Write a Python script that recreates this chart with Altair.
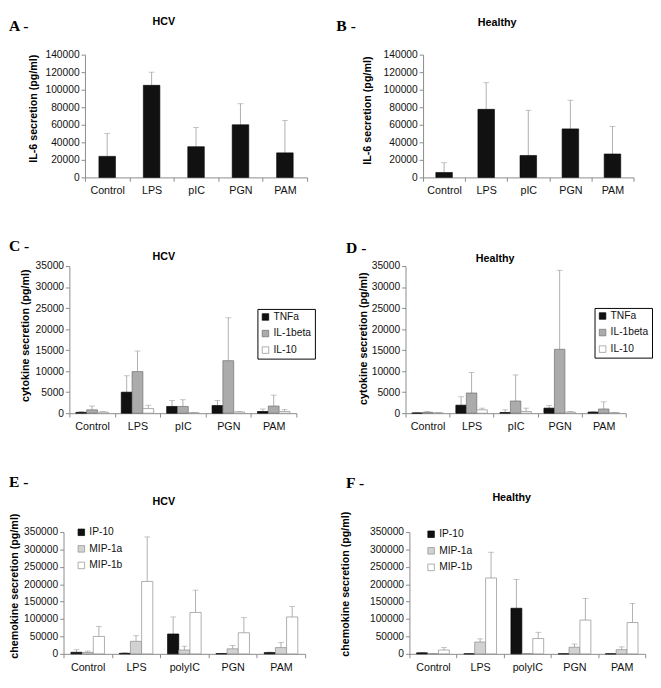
import altair as alt
import pandas as pd

# ---------------- data ----------------
cats_il6 = ["Control", "LPS", "pIC", "PGN", "PAM"]
cats_chemo = ["Control", "LPS", "polyIC", "PGN", "PAM"]

il6_hcv = [24000, 105000, 35000, 60000, 28000]
il6_hcv_err = [26000, 15000, 22000, 24000, 37000]
il6_healthy = [5600, 77600, 25000, 55300, 26700]
il6_healthy_err = [11100, 30400, 51500, 32700, 31300]

cyto_series = ["TNFa", "IL-1beta", "IL-10"]
cyto_hcv = {
    "TNFa": [200, 5000, 1600, 1800, 400],
    "IL-1beta": [800, 9900, 1600, 12500, 1700],
    "IL-10": [250, 1100, 100, 300, 400],
}
cyto_hcv_err = {
    "TNFa": [150, 3900, 1400, 1200, 600],
    "IL-1beta": [900, 4900, 1600, 10200, 2600],
    "IL-10": [100, 800, 50, 50, 500],
}
cyto_healthy = {
    "TNFa": [50, 1900, 150, 1200, 250],
    "IL-1beta": [200, 4800, 2900, 15200, 1000],
    "IL-10": [50, 800, 400, 250, 100],
}
cyto_healthy_err = {
    "TNFa": [100, 2000, 650, 600, 100],
    "IL-1beta": [200, 4900, 6200, 18800, 1700],
    "IL-10": [50, 400, 800, 150, 100],
}

chemo_series = ["IP-10", "MIP-1a", "MIP-1b"]
chemo_hcv = {
    "IP-10": [4500, 1500, 57000, 500, 3600],
    "MIP-1a": [4000, 36000, 11000, 14500, 18000],
    "MIP-1b": [50000, 208000, 119000, 60600, 106000],
}
chemo_hcv_err = {
    "IP-10": [7500, 1500, 49000, 0, 1500],
    "MIP-1a": [4000, 16000, 11000, 9500, 15000],
    "MIP-1b": [29000, 128000, 64000, 43400, 30000],
}
chemo_healthy = {
    "IP-10": [3000, 0, 131000, 0, 0],
    "MIP-1a": [500, 34000, 1000, 19000, 12000],
    "MIP-1b": [11000, 218000, 44000, 97000, 90000],
}
chemo_healthy_err = {
    "IP-10": [1000, 0, 83000, 0, 0],
    "MIP-1a": [0, 9000, 0, 9000, 8000],
    "MIP-1b": [7000, 74000, 18000, 62000, 55000],
}

FONT = "Liberation Sans"
AXIS_COLOR = "#8a8a8a"
ERR_COLOR = "#9a9a9a"


def simple_df(cats, mean, err):
    return pd.DataFrame({"cat": cats, "mean": mean,
                         "top": [m + e for m, e in zip(mean, err)]})


def group_df(cats, series, mean, err):
    rows = []
    for s in series:
        for c, m, e in zip(cats, mean[s], err[s]):
            rows.append({"cat": c, "series": s, "mean": m, "top": m + e})
    return pd.DataFrame(rows)


def x_enc(cats, rng, po=0.0):
    return alt.X("cat:N", sort=cats,
                 scale=alt.Scale(domain=cats, range=rng, paddingInner=0, paddingOuter=po),
                 axis=alt.Axis(title=None, labelAngle=0, tickBand="extent",
                               domainColor=AXIS_COLOR, tickColor=AXIS_COLOR, tickSize=4,
                               labelPadding=4, labelFontSize=11, labelFont=FONT,
                               labelColor="#111"))


def y_axis(title, values, d, tx, ty):
    return alt.Axis(title=title, values=values, format="d", offset=-d, grid=False,
                    domainColor=AXIS_COLOR, tickColor=AXIS_COLOR, tickSize=4,
                    labelPadding=2, labelFontSize=10.5, labelFont=FONT, labelColor="#111",
                    titleX=tx, titleY=ty, titleAngle=270, titleAlign="center",
                    titleBaseline="middle", titleFont=FONT, titleFontSize=11,
                    titleFontWeight="bold", titleColor="#000")


def text_layer(label, x, y, serif=False):
    if serif:
        mk = alt.Chart(pd.DataFrame({"t": [label]})).mark_text(
            font="Liberation Serif", fontWeight="bold", fontSize=16,
            align="left", baseline="top", color="#000")
    else:
        mk = alt.Chart(pd.DataFrame({"t": [label]})).mark_text(
            font=FONT, fontWeight="bold", fontSize=11,
            align="center", baseline="middle", color="#000")
    return mk.encode(x=alt.value(x), y=alt.value(y), text="t:N")


def simple_panel(cats, mean, err, d, w, h, ytitle, tx, ty, letter, lx, ly, ttl, ttx, tty):
    df = simple_df(cats, mean, err)
    vals = list(range(0, 140001, 20000))
    ysc = alt.Scale(domain=[0, 140000], nice=False)
    ax = y_axis(ytitle, vals, d, tx, ty)
    X = x_enc(cats, [d, w])
    base = alt.Chart(df)
    bars = base.mark_bar(color="#111111", stroke="#000", strokeWidth=0.6, width=17).encode(
        x=X, y=alt.Y("mean:Q", scale=ysc, axis=ax))
    rule = base.mark_rule(color=ERR_COLOR, strokeWidth=0.8).encode(
        x=X, y=alt.Y("mean:Q", scale=ysc, axis=ax), y2="top:Q")
    cap = base.mark_tick(color=ERR_COLOR, thickness=0.8, size=6).encode(
        x=X, y=alt.Y("top:Q", scale=ysc, axis=ax))
    return alt.layer(rule, cap, bars, text_layer(letter, lx, ly, True),
                     text_layer(ttl, ttx, tty)).properties(width=w, height=h)


def group_panel(cats, series, mean, err, fills, strokes, ymax, ystep, d, w, h, po_off,
                ytitle, tx, ty, letter, lx, ly, ttl, ttx, tty, leg):
    df = group_df(cats, series, mean, err)
    vals = list(range(0, ymax + 1, ystep))
    ysc = alt.Scale(domain=[0, ymax], nice=False)
    ax = y_axis(ytitle, vals, d, tx, ty)
    X = x_enc(cats, [d, w])
    XO = alt.XOffset("series:N", sort=series,
                     scale=alt.Scale(domain=series, paddingInner=0, paddingOuter=po_off))
    base = alt.Chart(df)
    bars = base.mark_bar(strokeWidth=0.7).encode(
        x=X, xOffset=XO, y=alt.Y("mean:Q", scale=ysc, axis=ax),
        fill=alt.Fill("series:N", sort=series,
                      scale=alt.Scale(domain=series, range=fills), legend=leg),
        stroke=alt.Stroke("series:N", sort=series,
                          scale=alt.Scale(domain=series, range=strokes), legend=None))
    rule = base.mark_rule(color=ERR_COLOR, strokeWidth=0.8).encode(
        x=X, xOffset=XO, y=alt.Y("mean:Q", scale=ysc, axis=ax), y2="top:Q")
    cap = base.mark_tick(color=ERR_COLOR, thickness=0.8, size=6).encode(
        x=X, xOffset=XO, y=alt.Y("top:Q", scale=ysc, axis=ax))
    return alt.layer(rule, cap, bars, text_layer(letter, lx, ly, True),
                     text_layer(ttl, ttx, tty)).properties(width=w, height=h)


def legend(x, y, boxed):
    kw = dict(title=None, orient="none", legendX=x, legendY=y, symbolType="square",
              symbolSize=45, symbolStrokeColor="#666", symbolStrokeWidth=0.7,
              labelFontSize=10.5, labelFont=FONT, labelColor="#111", rowPadding=6,
              labelOffset=3)
    if boxed:
        kw.update(padding=3, strokeColor="#000", fillColor="#fff")
    else:
        kw.update(padding=0)
    return alt.Legend(**kw)


A = simple_panel(cats_il6, il6_hcv, il6_hcv_err, 22, 250, 126,
                 "IL-6 secretion (pg/ml)", -53, 55, "A -", -56, -37, "HCV", 103, -33)
B = simple_panel(cats_il6, il6_healthy, il6_healthy_err, 18, 234, 126,
                 "IL-6 secretion (pg/ml)", -57, 57, "B -", -71, -37, "Healthy", 94, -32)

cyto_fills = ["#111111", "#ababab", "#ffffff"]
cyto_strokes = ["#000000", "#6e6e6e", "#8a8a8a"]
C = group_panel(cats_il6, cyto_series, cyto_hcv, cyto_hcv_err, cyto_fills, cyto_strokes,
                35000, 5000, 6, 239, 151, 0.6, "cytokine secretion (pg/ml)", -45, 71,
                "C -", -56, -28, "HCV", 103, -9, legend(199, 44, True))
D = group_panel(cats_il6, cyto_series, cyto_healthy, cyto_healthy_err, cyto_fills, cyto_strokes,
                35000, 5000, 0, 226, 151, 0.6, "cytokine secretion (pg/ml)", -43, 74,
                "D -", -61, -26, "Healthy", 92, -7, legend(194, 43, True))

chemo_fills = ["#111111", "#d2d2d2", "#ffffff"]
chemo_strokes = ["#000000", "#8a8a8a", "#8a8a8a"]
E = group_panel(cats_chemo, chemo_series, chemo_hcv, chemo_hcv_err, chemo_fills, chemo_strokes,
                350000, 50000, 0, 248, 125, 0.66, "chemokine secretion (pg/ml)", -50, 55,
                "E -", -56, -59, "HCV", 103, -31, legend(13, -5, False))
F = group_panel(cats_chemo, chemo_series, chemo_healthy, chemo_healthy_err, chemo_fills,
                chemo_strokes, 350000, 50000, 4, 246, 125, 0.66,
                "chemokine secretion (pg/ml)", -66, 53, "F -", -61, -58, "Healthy", 109, -35,
                legend(21, -3, False))

IND = dict(x="independent", y="independent", fill="independent", stroke="independent",
           xOffset="independent")

row_ab = alt.hconcat(A, B, spacing=101, bounds="flush").resolve_scale(**IND)
row_cd = alt.hconcat(C, D, spacing=112, bounds="flush").resolve_scale(**IND)
row_ef = alt.hconcat(E, F, spacing=103, bounds="flush").resolve_scale(**IND)

chart = (
    alt.vconcat(row_ab, row_cd, row_ef, spacing=44)
    .resolve_scale(**IND)
    .properties(padding=0, background="#ffffff")
    .configure_view(stroke=None)
)

chart.save("out.html", embed_options={"renderer": "svg", "actions": False})
